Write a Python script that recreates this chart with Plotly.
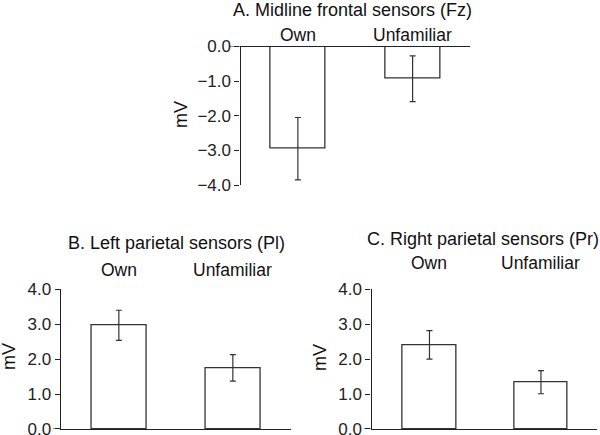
import plotly.graph_objects as go

# ERP amplitude (mV) per condition, three sensor groups
categories = ["Own", "Unfamiliar"]
titles = ["A. Midline frontal sensors (Fz)",
          "B. Left parietal sensors (Pl)",
          "C. Right parietal sensors (Pr)"]

fz_mean = [-2.95, -0.93]
fz_err = [0.90, 0.66]

pl_mean = [2.97, 1.75]
pl_err = [0.43, 0.38]

pr_mean = [2.41, 1.34]
pr_err = [0.41, 0.33]

font = "Arial, Liberation Sans, sans-serif"
ink = "#222222"

fig = go.Figure()

bar_style = dict(marker=dict(color="white", line=dict(color="#333333", width=1.3)),
                 width=0.48, showlegend=False, hoverinfo="skip")
err_style = dict(color="#333333", thickness=1.2, width=3)

fig.add_trace(go.Bar(x=[0, 1], y=fz_mean, xaxis="x", yaxis="y",
                     error_y=dict(type="data", array=fz_err, **err_style),
                     **bar_style))
fig.add_trace(go.Bar(x=[0, 1], y=pl_mean, xaxis="x2", yaxis="y2",
                     error_y=dict(type="data", array=pl_err, **err_style),
                     **bar_style))
fig.add_trace(go.Bar(x=[0, 1], y=pr_mean, xaxis="x3", yaxis="y3",
                     error_y=dict(type="data", array=pr_err, **err_style),
                     **bar_style))

xcommon = dict(showline=True, linecolor=ink, linewidth=1.2, ticks="",
               showticklabels=False, showgrid=False, zeroline=False,
               fixedrange=True, automargin=False)
ycommon = dict(showline=True, linecolor=ink, linewidth=1.2, ticks="outside",
               ticklen=5, tickcolor=ink, tickwidth=1.2, dtick=1,
               tickformat=".1f", showgrid=False, zeroline=False,
               automargin=False, fixedrange=True, ticklabeloverflow="allow",
               tickfont=dict(family=font, size=17, color=ink))

xa, xb, xc3 = 240.5 / 600, 60.7 / 600, 371.5 / 600

fig.update_layout(
    width=600, height=435,
    margin=dict(l=0, r=0, t=0, b=0),
    plot_bgcolor="white", paper_bgcolor="white",
    bargap=0,
    xaxis=dict(domain=[xa, 0.7833], range=[-0.5, 1.5], anchor="y",
               side="top", **xcommon),
    yaxis=dict(domain=[0.5747, 0.8931], range=[-4, 0], anchor="x", **ycommon),
    xaxis2=dict(domain=[xb, 0.485], range=[-0.51, 1.51], anchor="y2",
                **xcommon),
    yaxis2=dict(domain=[0.0138, 0.3349], range=[0, 4], anchor="x2", **ycommon),
    xaxis3=dict(domain=[xc3, 0.9945], range=[-0.52, 1.5], anchor="y3",
                **xcommon),
    yaxis3=dict(domain=[0.0138, 0.3349], range=[0, 4], anchor="x3", **ycommon),
)

# the zero line of each panel runs a little past its y axis on the left
for yr, x0, x1 in [("y", 230 / 600, xa), ("y2", 53 / 600, xb),
                   ("y3", 364 / 600, xc3)]:
    fig.add_shape(type="line", xref="paper", yref=yr, x0=x0, x1=x1,
                  y0=0, y1=0, line=dict(color=ink, width=1.2))

title_font = dict(family=font, size=18, color="#111111")
cat_font = dict(family=font, size=17.5, color="#111111")

# panel titles
for xc, yc, t in [(352 / 600, 0.977, titles[0]),
                  (176 / 600, 0.4414, titles[1]),
                  (483 / 600, 0.4517, titles[2])]:
    fig.add_annotation(text=t, x=xc, y=yc, xref="paper", yref="paper",
                       showarrow=False, font=title_font, xanchor="center",
                       yanchor="middle")

# category labels above each panel
for xr, yc in [("x", 0.9195), ("x2", 0.3793), ("x3", 0.3943)]:
    for i, c in enumerate(categories):
        fig.add_annotation(text=c, x=i, y=yc, xref=xr, yref="paper",
                           showarrow=False, font=cat_font, xanchor="center",
                           yanchor="middle")

# y-axis unit labels
for xc, yc in [(181 / 600, 1 - 115 / 435), (9 / 600, 1 - 357 / 435),
               (320 / 600, 1 - 358 / 435)]:
    fig.add_annotation(text="mV", x=xc, y=yc, xref="paper", yref="paper",
                       showarrow=False, textangle=-90, font=title_font,
                       xanchor="center", yanchor="middle")

fig.write_html("out.html", config={"displayModeBar": False},
               post_script="document.body.style.margin='0';"
                           "document.body.style.padding='0';")
